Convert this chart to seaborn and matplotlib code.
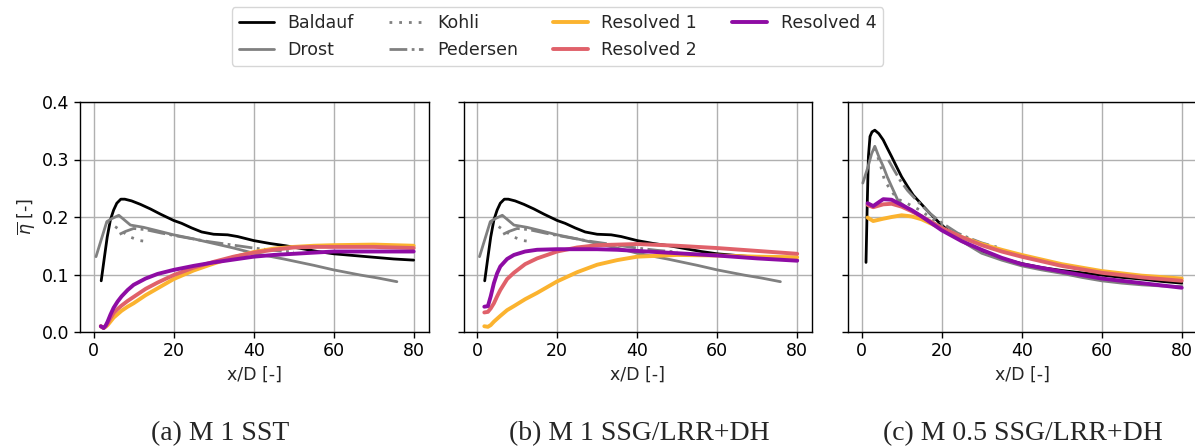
import numpy as np
import pandas as pd
import matplotlib
matplotlib.use("Agg")
import matplotlib.pyplot as plt
import seaborn as sns

# ---------------- data ----------------
# Experimental data (same for M 1 panels)
baldauf_x = [1.9, 2.7, 3.4, 4.2, 5.0, 5.8, 6.8, 7.8, 9.5, 11.7, 14.2, 16.7, 20, 22, 24.5, 27, 30,
             33.5, 36, 40, 44, 48, 52, 56, 60, 65, 70, 75, 80]
baldauf_y = [0.089, 0.13, 0.165, 0.195, 0.212, 0.224, 0.231, 0.231, 0.228, 0.222, 0.214, 0.205,
             0.194, 0.189, 0.181, 0.174, 0.170, 0.169, 0.166, 0.159, 0.154, 0.150, 0.145, 0.140,
             0.136, 0.133, 0.130, 0.127, 0.125]
drost_x = [0.6, 3.3, 4.5, 6.3, 7.5, 9.2, 12.5, 16, 20, 25, 30, 35, 40, 47.5, 55, 60, 66.7, 71, 75.8]
drost_y = [0.131, 0.192, 0.197, 0.203, 0.196, 0.186, 0.182, 0.176, 0.169, 0.162, 0.154, 0.146,
           0.137, 0.127, 0.116, 0.108, 0.099, 0.094, 0.0875]
kohli_x = [3.3, 5.0, 6.7, 9.2, 11.5, 13.75]
kohli_y = [0.192, 0.185, 0.177, 0.165, 0.159, 0.157]
pedersen_x = [6.5, 8, 10, 13, 17, 20, 24, 28, 32, 36, 40, 45, 50]
pedersen_y = [0.170, 0.175, 0.180, 0.178, 0.172, 0.168, 0.163, 0.158, 0.154, 0.150, 0.146,
              0.142, 0.139]

# M 0.5 experimental data
baldauf05_x = [1.1, 1.4, 1.7, 2.1, 2.6, 3.3, 4.3, 5.4, 6.4, 7.5, 8.7, 10, 11.5, 12.9, 15, 17.1,
               20, 24.6, 30, 35, 40, 45, 50, 55, 60, 65, 70, 75, 80]
baldauf05_y = [0.121, 0.22, 0.305, 0.340, 0.348, 0.351, 0.345, 0.334, 0.320, 0.305, 0.288, 0.270,
               0.253, 0.238, 0.222, 0.206, 0.186, 0.160, 0.140, 0.128, 0.119, 0.112, 0.107,
               0.103, 0.099, 0.095, 0.092, 0.088, 0.085]
drost05_x = [0.3, 1.5, 2.5, 3.3, 4.3, 5.4, 6.4, 7.5, 9.2, 11, 14, 17, 20, 25, 30, 35, 40, 45, 50,
             55, 60, 65, 70, 75, 80]
drost05_y = [0.259, 0.285, 0.310, 0.323, 0.305, 0.288, 0.270, 0.253, 0.227, 0.218, 0.204, 0.193,
             0.183, 0.158, 0.137, 0.125, 0.115, 0.108, 0.102, 0.095, 0.089, 0.085, 0.082,
             0.080, 0.079]
kohli05_x = [3.3, 4.6, 5.8, 7.5, 8.75, 11, 14.6, 18, 22, 26.25, 30, 33.75]
kohli05_y = [0.320, 0.293, 0.262, 0.245, 0.232, 0.225, 0.212, 0.195, 0.177, 0.163, 0.154, 0.148]
pedersen05_x = [6.7, 8, 9.6, 11.5, 13.75, 17.1, 20, 24, 27, 30, 32]
pedersen05_y = [0.299, 0.283, 0.264, 0.246, 0.229, 0.206, 0.190, 0.172, 0.163, 0.155, 0.151]

# Resolved simulations, panel (a)
res_a_x = [1.8, 2.5, 3.0, 3.5, 4.2, 5, 6, 7, 8.5, 10, 13, 16, 20, 25, 30, 35, 40, 45, 50, 55,
           60, 70, 80]
res1_a = [0.010, 0.007, 0.009, 0.012, 0.018, 0.025, 0.031, 0.037, 0.044, 0.050, 0.064, 0.076,
          0.092, 0.107, 0.119, 0.130, 0.139, 0.145, 0.148, 0.150, 0.151, 0.152, 0.150]
res2_a = [0.010, 0.007, 0.010, 0.015, 0.024, 0.033, 0.040, 0.046, 0.054, 0.061, 0.075, 0.086,
          0.099, 0.112, 0.122, 0.131, 0.138, 0.143, 0.147, 0.148, 0.148, 0.148, 0.146]
res4_a = [0.010, 0.007, 0.011, 0.018, 0.030, 0.042, 0.053, 0.062, 0.073, 0.082, 0.093, 0.101,
          0.108, 0.115, 0.121, 0.126, 0.131, 0.134, 0.136, 0.138, 0.140, 0.140, 0.140]

# Resolved simulations, panel (b)
res_b_x = [1.8, 2.7, 3.4, 4.2, 5.0, 5.8, 7.5, 9.2, 12, 15, 20, 25, 30, 35, 40, 50, 60, 70, 80]
res1_b = [0.010, 0.009, 0.012, 0.018, 0.023, 0.028, 0.038, 0.045, 0.057, 0.068, 0.088, 0.104,
          0.117, 0.125, 0.131, 0.134, 0.133, 0.131, 0.130]
res2_b = [0.034, 0.035, 0.041, 0.050, 0.062, 0.073, 0.092, 0.103, 0.118, 0.128, 0.140, 0.147,
          0.151, 0.152, 0.153, 0.150, 0.146, 0.141, 0.136]
res4_b = [0.044, 0.045, 0.062, 0.085, 0.102, 0.114, 0.127, 0.134, 0.140, 0.143, 0.144, 0.144,
          0.144, 0.143, 0.141, 0.137, 0.133, 0.128, 0.124]

# Resolved simulations, panel (c)
res_c_x = [1.5, 2.9, 5.4, 7.5, 10, 12.5, 15, 20, 25, 30, 35, 40, 50, 60, 70, 80]
res1_c = [0.199, 0.193, 0.197, 0.200, 0.203, 0.201, 0.196, 0.180, 0.165, 0.153, 0.143, 0.134,
          0.118, 0.106, 0.098, 0.093]
res2_c = [0.221, 0.217, 0.222, 0.223, 0.218, 0.210, 0.201, 0.181, 0.165, 0.151, 0.140, 0.131,
          0.115, 0.103, 0.095, 0.089]
res4_c = [0.224, 0.219, 0.231, 0.230, 0.221, 0.212, 0.201, 0.177, 0.158, 0.143, 0.129, 0.118,
          0.105, 0.093, 0.085, 0.077]

captions = ["(a) M 1 SST", "(b) M 1 SSG/LRR+DH", "(c) M 0.5 SSG/LRR+DH"]
xticks = [0, 20, 40, 60, 80]
yticks = [0.0, 0.1, 0.2, 0.3, 0.4]

# ---------------- style ----------------
sns.set_style("ticks", {"axes.grid": True, "grid.color": "#b0b0b0",
                        "axes.edgecolor": "black", "xtick.color": "black",
                        "ytick.color": "black"})
plt.rcParams["font.family"] = ["DejaVu Sans"]
plt.rcParams["font.size"] = 12.5

C_R1 = "#fbb32f"
C_R2 = "#e0616a"
C_R4 = "#8e0ca4"
C_GRAY = "#808080"

fig = plt.figure(figsize=(11.95, 4.46), dpi=100)
W, H = 1195, 446
aw = (428.5 - 80) / W
ah = (332 - 102) / H
bottom = (H - 332) / H
lefts = [80 / W, 463.5 / W, 848 / W]
axes = [fig.add_axes([l, bottom, aw, ah]) for l in lefts]

panels = [
    (baldauf_x, baldauf_y, drost_x, drost_y, kohli_x, kohli_y, pedersen_x, pedersen_y,
     res_a_x, res1_a, res2_a, res4_a),
    (baldauf_x, baldauf_y, drost_x, drost_y, kohli_x, kohli_y, pedersen_x, pedersen_y,
     res_b_x, res1_b, res2_b, res4_b),
    (baldauf05_x, baldauf05_y, drost05_x, drost05_y, kohli05_x, kohli05_y, pedersen05_x,
     pedersen05_y, res_c_x, res1_c, res2_c, res4_c),
]


def line(ax, x, y, **kw):
    df = pd.DataFrame({"x": x, "y": y})
    sns.lineplot(data=df, x="x", y="y", ax=ax, estimator=None, sort=False, **kw)


for i, (ax, p) in enumerate(zip(axes, panels)):
    bx, by, dx, dy, kx, ky, px, py, rx, r1, r2, r4 = p
    line(ax, bx, by, color="black", lw=2.0, label="Baldauf")
    line(ax, dx, dy, color=C_GRAY, lw=2.0, label="Drost")
    line(ax, kx, ky, color=C_GRAY, lw=2.0, linestyle=(0, (1, 2.5)), label="Kohli")
    line(ax, px, py, color=C_GRAY, lw=2.0, linestyle="-.", label="Pedersen")
    line(ax, rx, r1, color=C_R1, lw=2.8, label="Resolved 1")
    line(ax, rx, r2, color=C_R2, lw=2.8, label="Resolved 2")
    line(ax, rx, r4, color=C_R4, lw=2.8, label="Resolved 4")
    ax.set_xlim(-3.4, 83.7)
    ax.set_ylim(0, 0.4)
    ax.set_xticks(xticks)
    ax.set_yticks(yticks)
    ax.grid(True, color="#b0b0b0", lw=1.0)
    ax.set_axisbelow(True)
    ax.set_xlabel("x/D [-]", fontsize=12.5)
    ax.tick_params(labelsize=12.5, length=4, width=1, direction="out")
    for s in ax.spines.values():
        s.set_visible(True)
        s.set_color("black")
        s.set_linewidth(1.0)
    if i == 0:
        ax.set_yticklabels([f"{v:.1f}" for v in yticks])
        ax.set_ylabel(r"$\overline{\eta}$ [-]", fontsize=12.5)
    else:
        ax.set_yticklabels([])
        ax.set_ylabel("")
    if ax.get_legend() is not None:
        ax.get_legend().remove()

handles, labels = axes[0].get_legend_handles_labels()
fig.legend(handles, labels, ncol=4, loc="upper center",
           bbox_to_anchor=(557.5 / W, 1 - 2 / H), fontsize=12.5, frameon=True,
           borderaxespad=0.3)

cap_x = [220, 639, 1023]
for cx, txt in zip(cap_x, captions):
    fig.text(cx / W, (H - 434) / H, txt, ha="center", va="center",
             fontsize=20, family=["Liberation Serif", "DejaVu Serif"])

fig.savefig("out.png", dpi=100)
